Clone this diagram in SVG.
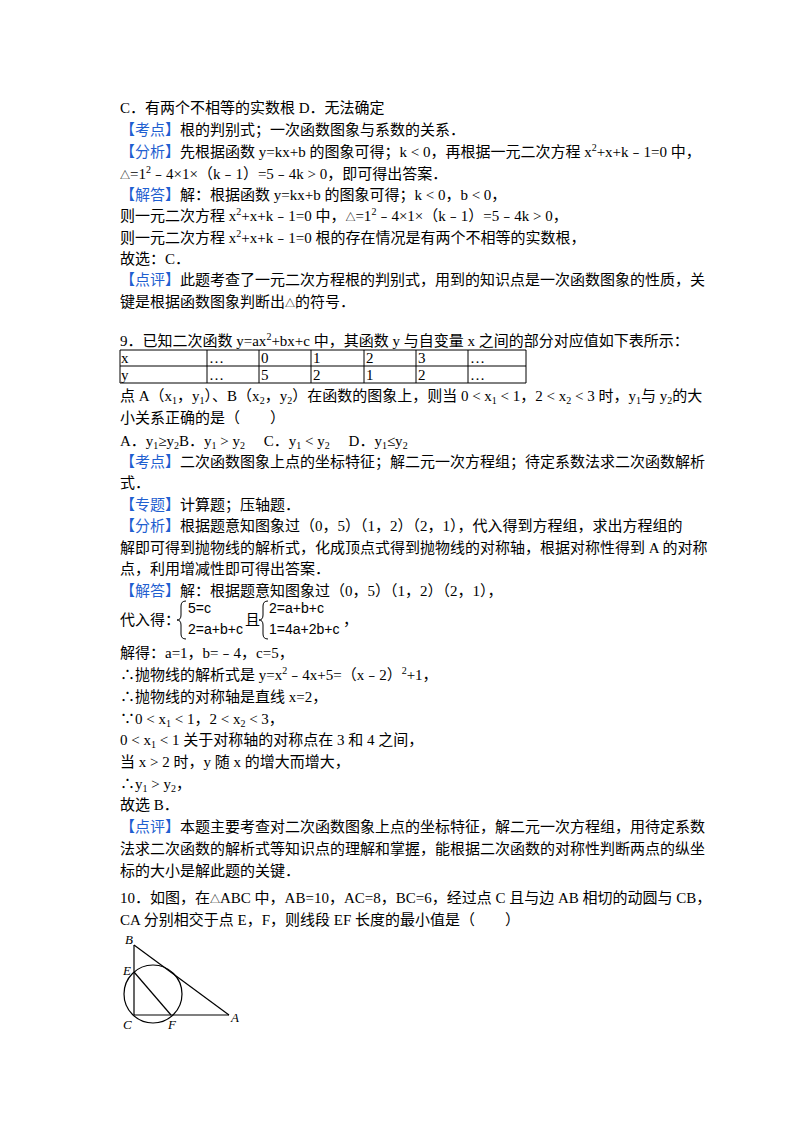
<svg xmlns="http://www.w3.org/2000/svg" width="800" height="1132" viewBox="0 0 800 1132">
<style>
text{font-family:"Liberation Serif","Noto Sans CJK SC",serif;font-size:15px;fill:#000}
.b{fill:#1f5fd0;font-family:"Noto Sans CJK SC",sans-serif}
.s{font-size:10px}
.m{font-family:"Liberation Sans",sans-serif;font-size:14px}
.br{stroke:#000;stroke-width:1;fill:none}
.g line,.g circle{stroke:#000;stroke-width:1.2;fill:none}
.t line{stroke:#000;stroke-width:1}
.l{font-style:italic;font-size:13px}
</style>
<rect width="800" height="1132" fill="#fff"/>
<text x="120" y="113">C．有两个不相等的实数根 D．无法确定</text>
<text x="120" y="135"><tspan class="b">【考点】</tspan>根的判别式；一次函数图象与系数的关系．</text>
<text x="120" y="157"><tspan class="b">【分析】</tspan>先根据函数 y=kx+b 的图象可得；k &lt; 0，再根据一元二次方程 x<tspan class="s" dy="-6">2</tspan><tspan dy="6">+x+k﹣1=0 中，</tspan></text>
<text x="120" y="179"><tspan class="s">△</tspan>=1<tspan class="s" dy="-6">2</tspan><tspan dy="6">﹣4×1×（k﹣1）=5﹣4k &gt; 0，即可得出答案．</tspan></text>
<text x="120" y="200"><tspan class="b">【解答】</tspan>解：根据函数 y=kx+b 的图象可得；k &lt; 0，b &lt; 0，</text>
<text x="120" y="221">则一元二次方程 x<tspan class="s" dy="-6">2</tspan><tspan dy="6">+x+k﹣1=0 中，</tspan><tspan class="s">△</tspan>=1<tspan class="s" dy="-6">2</tspan><tspan dy="6">﹣4×1×（k﹣1）=5﹣4k &gt; 0，</tspan></text>
<text x="120" y="243">则一元二次方程 x<tspan class="s" dy="-6">2</tspan><tspan dy="6">+x+k﹣1=0 根的存在情况是有两个不相等的实数根，</tspan></text>
<text x="120" y="264">故选：C．</text>
<text x="120" y="285"><tspan class="b">【点评】</tspan>此题考查了一元二次方程根的判别式，用到的知识点是一次函数图象的性质，关</text>
<text x="120" y="307">键是根据函数图象判断出<tspan class="s">△</tspan>的符号．</text>
<text x="120" y="346">9．已知二次函数 y=ax<tspan class="s" dy="-6">2</tspan><tspan dy="6">+bx+c 中，其函数 y 与自变量 x 之间的部分对应值如下表所示：</tspan></text>
<g class="t">
<line x1="120" y1="350" x2="526" y2="350"/><line x1="120" y1="366" x2="526" y2="366"/><line x1="120" y1="383" x2="526" y2="383"/>
<line x1="120" y1="350" x2="120" y2="383"/><line x1="207" y1="350" x2="207" y2="383"/><line x1="259" y1="350" x2="259" y2="383"/><line x1="311" y1="350" x2="311" y2="383"/><line x1="364" y1="350" x2="364" y2="383"/><line x1="416" y1="350" x2="416" y2="383"/><line x1="468" y1="350" x2="468" y2="383"/><line x1="526" y1="350" x2="526" y2="383"/>
</g>
<text x="121" y="363">x</text><text x="209" y="363">…</text><text x="261" y="363">0</text><text x="313" y="363">1</text><text x="366" y="363">2</text><text x="418" y="363">3</text><text x="470" y="363">…</text>
<text x="121" y="380">y</text><text x="209" y="380">…</text><text x="261" y="380">5</text><text x="313" y="380">2</text><text x="366" y="380">1</text><text x="418" y="380">2</text><text x="470" y="380">…</text>
<text x="120" y="401">点 A（x<tspan class="s" dy="3">1</tspan><tspan dy="-3">，y</tspan><tspan class="s" dy="3">1</tspan><tspan dy="-3">）、B（x</tspan><tspan class="s" dy="3">2</tspan><tspan dy="-3">，y</tspan><tspan class="s" dy="3">2</tspan><tspan dy="-3">）在函数的图象上，则当 0 &lt; x</tspan><tspan class="s" dy="3">1</tspan><tspan dy="-3"> &lt; 1，2 &lt; x</tspan><tspan class="s" dy="3">2</tspan><tspan dy="-3"> &lt; 3 时，y</tspan><tspan class="s" dy="3">1</tspan><tspan dy="-3">与 y</tspan><tspan class="s" dy="3">2</tspan><tspan dy="-3">的大</tspan></text>
<text x="120" y="423">小关系正确的是（　　）</text>
<text x="120" y="446">A．y<tspan class="s" dy="3">1</tspan><tspan dy="-3">≥y</tspan><tspan class="s" dy="3">2</tspan><tspan dy="-3">B．y</tspan><tspan class="s" dy="3">1</tspan><tspan dy="-3"> &gt; y</tspan><tspan class="s" dy="3">2</tspan><tspan dy="-3">　 C．y</tspan><tspan class="s" dy="3">1</tspan><tspan dy="-3"> &lt; y</tspan><tspan class="s" dy="3">2</tspan><tspan dy="-3">　 D．y</tspan><tspan class="s" dy="3">1</tspan><tspan dy="-3">≤y</tspan><tspan class="s" dy="3">2</tspan></text>
<text x="120" y="467"><tspan class="b">【考点】</tspan>二次函数图象上点的坐标特征；解二元一次方程组；待定系数法求二次函数解析</text>
<text x="120" y="488">式．</text>
<text x="120" y="510"><tspan class="b">【专题】</tspan>计算题；压轴题．</text>
<text x="120" y="531"><tspan class="b">【分析】</tspan>根据题意知图象过（0，5）（1，2）（2，1），代入得到方程组，求出方程组的</text>
<text x="120" y="553">解即可得到抛物线的解析式，化成顶点式得到抛物线的对称轴，根据对称性得到 A 的对称</text>
<text x="120" y="574">点，利用增减性即可得出答案．</text>
<text x="120" y="596"><tspan class="b">【解答】</tspan>解：根据题意知图象过（0，5）（1，2）（2，1），</text>
<text x="120" y="625">代入得：</text>
<path class="br" d="M186,601 Q181,601 181,606 L181,615 Q181,620 177,620 Q181,620 181,625 L181,634 Q181,639 186,639"/>
<text class="m" x="188" y="613">5=c</text>
<text class="m" x="188" y="634">2=a+b+c</text>
<text x="245" y="625">且</text>
<path class="br" d="M268,601 Q263,601 263,606 L263,615 Q263,620 259,620 Q263,620 263,625 L263,634 Q263,639 268,639"/>
<text class="m" x="269" y="613">2=a+b+c</text>
<text class="m" x="269" y="634">1=4a+2b+c</text>
<text x="343" y="625">，</text>
<text x="120" y="658">解得：a=1，b=﹣4，c=5，</text>
<text x="120" y="680">∴抛物线的解析式是 y=x<tspan class="s" dy="-6">2</tspan><tspan dy="6">﹣4x+5=（x﹣2）</tspan><tspan class="s" dy="-6">2</tspan><tspan dy="6">+1，</tspan></text>
<text x="120" y="702">∴抛物线的对称轴是直线 x=2，</text>
<text x="120" y="724">∵0 &lt; x<tspan class="s" dy="3">1</tspan><tspan dy="-3"> &lt; 1，2 &lt; x</tspan><tspan class="s" dy="3">2</tspan><tspan dy="-3"> &lt; 3，</tspan></text>
<text x="120" y="745">0 &lt; x<tspan class="s" dy="3">1</tspan><tspan dy="-3"> &lt; 1 关于对称轴的对称点在 3 和 4 之间，</tspan></text>
<text x="120" y="767">当 x &gt; 2 时，y 随 x 的增大而增大，</text>
<text x="120" y="789">∴y<tspan class="s" dy="3">1</tspan><tspan dy="-3"> &gt; y</tspan><tspan class="s" dy="3">2</tspan><tspan dy="-3">，</tspan></text>
<text x="120" y="810">故选 B．</text>
<text x="120" y="832"><tspan class="b">【点评】</tspan>本题主要考查对二次函数图象上点的坐标特征，解二元一次方程组，用待定系数</text>
<text x="120" y="854">法求二次函数的解析式等知识点的理解和掌握，能根据二次函数的对称性判断两点的纵坐</text>
<text x="120" y="876">标的大小是解此题的关键．</text>
<text x="120" y="903">10．如图，在<tspan class="s">△</tspan>ABC 中，AB=10，AC=8，BC=6，经过点 C 且与边 AB 相切的动圆与 CB，</text>
<text x="120" y="925">CA 分别相交于点 E，F，则线段 EF 长度的最小值是（　　）</text>
<g class="g">
<line x1="134" y1="945" x2="134" y2="1015"/>
<line x1="134" y1="1015" x2="229" y2="1015"/>
<line x1="134" y1="945" x2="229" y2="1015"/>
<line x1="134" y1="972" x2="171" y2="1015"/>
<circle cx="153" cy="994" r="29"/>
</g>
<text class="l" x="125" y="944">B</text>
<text class="l" x="123" y="975">E</text>
<text class="l" x="123" y="1029">C</text>
<text class="l" x="168" y="1029">F</text>
<text class="l" x="231" y="1022">A</text>
</svg>
